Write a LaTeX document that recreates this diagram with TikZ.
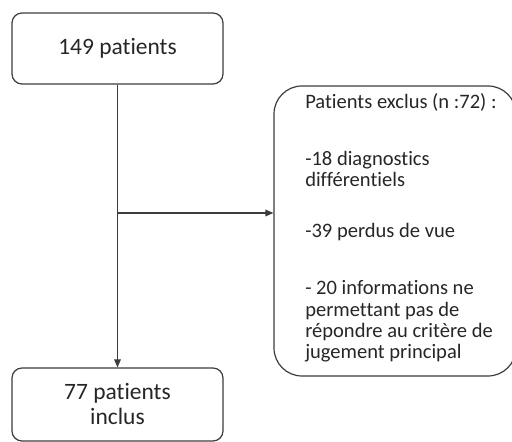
\documentclass[tikz,border=0pt]{standalone}
\usepackage{fontspec}
\setmainfont[Ligatures=NoCommon]{Carlito}
\usetikzlibrary{arrows.meta}
\usetikzlibrary{positioning}
\definecolor{mgrey}{RGB}{60,60,60}
\definecolor{mtext}{RGB}{38,38,38}
\tikzset{->/.style = {-{Triangle[length=6pt, width=5pt]}},
         line/.style = {draw=mgrey, line width=0.9pt},
         box/.style = {line, rounded corners=7.5pt, text=mtext, align=center,
                       minimum width=158.25pt,
                       font=\fontsize{17.6}{18.75}\selectfont}}

\begin{document}
\begin{tikzpicture}[x=0.75pt, y=-0.75pt]
    \useasboundingbox (0, 0) rectangle (512, 442);

    \node [box, minimum height=53.25pt] (total) at (117.5, 48.5) {149 patients};
    \node [box, minimum height=54.75pt] (incl) at (117.5, 404.5) {77 patients\\inclus};

    \node [line, rounded corners=21pt, minimum width=181.5pt, minimum height=217.5pt] (excl) at (395, 231) {};
    \node [anchor=north west, align=left, text=mtext, inner sep=0pt,
           font=\fontsize{15.4}{16}\selectfont] (exclText) at (305, 93)
        {Patients exclus (n :72) :\\[27pt]
         -18 diagnostics\\
         différentiels\\[22pt]
         -39 perdus de vue\\[27pt]
         - 20 informations ne\\
         permettant pas de\\
         répondre au critère de\\
         jugement principal};

    \coordinate (split) at (117.5, 213);
    \draw [line, ->] (total) -- (incl);
    \draw [line, ->] (split) -- (split -| excl.west);
\end{tikzpicture}
\end{document}
